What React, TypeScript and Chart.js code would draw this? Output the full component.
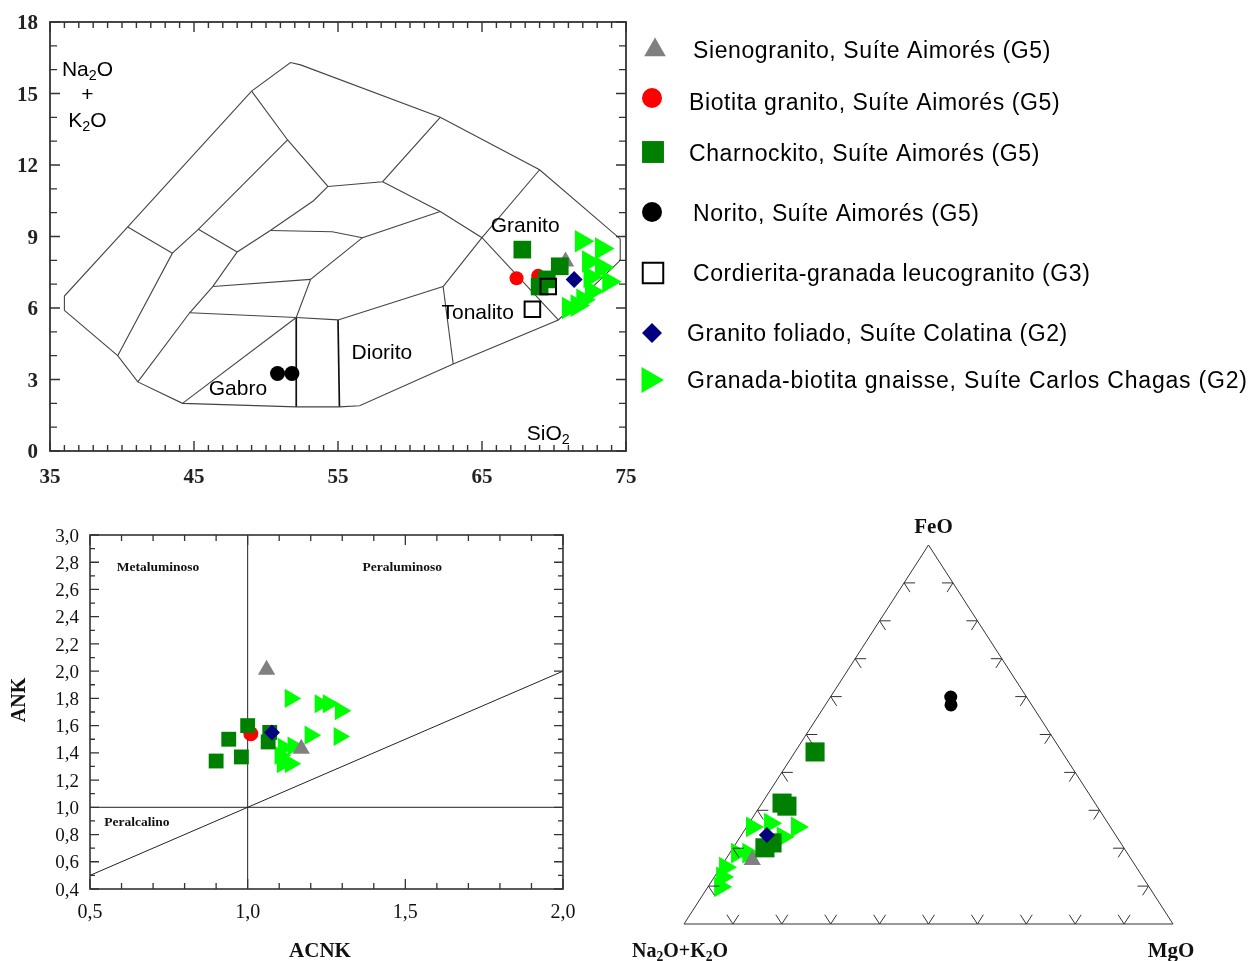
import React, { useEffect, useRef } from 'react';
import { Chart, registerables } from 'chart.js';
import { drawPoint } from 'chart.js/helpers';

Chart.register(...registerables);

type XY = [number, number];
type AFM = [number, number, number]; // [Na2O+K2O, FeO, MgO]

// ---------- series ----------
const seriesNames = [
  'Sienogranito, Suíte Aimorés (G5)',
  'Biotita granito, Suíte Aimorés (G5)',
  'Charnockito, Suíte Aimorés (G5)',
  'Norito, Suíte Aimorés (G5)',
  'Cordierita-granada leucogranito (G3)',
  'Granito foliado, Suíte Colatina (G2)',
  'Granada-biotita gnaisse, Suíte Carlos Chagas (G2)',
];

// ---------- TAS: SiO2 vs Na2O + K2O ----------
const tasXTicks = [35, 45, 55, 65, 75];
const tasYTicks = [0, 3, 6, 9, 12, 15, 18];

const tasSienogranito: XY[] = [[70.8, 7.95]];
const tasBiotitaGranito: XY[] = [[67.4, 7.25], [68.9, 7.35]];
const tasCharnockito: XY[] = [[67.8, 8.45], [70.4, 7.75], [69.5, 7.2], [69.0, 6.9]];
const tasNorito: XY[] = [[50.8, 3.25], [51.8, 3.25]];
const tasCordierita: XY[] = [[69.6, 6.9], [68.5, 5.95]];
const tasGranitoFoliado: XY[] = [[71.4, 7.2]];
const tasGnaisse: XY[] = [
  [71.9, 8.8], [73.3, 8.5], [72.4, 7.95], [73.3, 7.7], [72.5, 7.3],
  [73.8, 7.1], [72.6, 6.7], [72.0, 6.35], [71.0, 6.0], [71.6, 6.1],
];

// field boundaries of the plutonic TAS diagram
const tasOutline: XY[] = [
  [36, 5.9], [36, 6.5], [40.4, 9.4], [49, 15.1], [51.7, 16.3], [52.4, 16.2], [62.1, 14],
  [69, 11.8], [74.6, 8.9], [74.6, 8], [70.3, 5.5], [63, 3.65], [56.5, 1.9], [55.1, 1.85],
  [52.1, 1.85], [44.2, 2], [41.1, 2.9], [39.7, 4], [36, 5.9],
];
const tasDividers: XY[][] = [
  [[40.4, 9.4], [43.5, 8.3]],
  [[39.7, 4], [43.5, 8.3], [45.3, 9.3], [51.5, 13.05]],
  [[49, 15.1], [51.5, 13.05], [54.3, 11.1], [58.1, 11.3], [62.1, 14]],
  [[41.1, 2.9], [44.7, 5.8], [46.3, 6.9], [48, 8.35], [50.3, 9.25], [53.3, 10.5], [54.3, 11.1]],
  [[45.3, 9.3], [48, 8.35]],
  [[50.3, 9.25], [54.6, 9.2], [56.7, 8.95]],
  [[46.3, 6.9], [53.1, 7.2]],
  [[44.7, 5.8], [52.1, 5.6], [55, 5.5]],
  [[52.1, 5.6], [53.1, 7.2], [56.7, 8.95], [62.1, 10.05]],
  [[58.1, 11.3], [62.1, 10.05], [65, 8.95], [70.3, 5.5]],
  [[69, 11.8], [65, 8.95], [62.3, 6.9]],
  [[55, 5.5], [62.3, 6.9]],
  [[62.3, 6.9], [63, 3.65]],
  [[44.2, 2], [52.1, 5.6]],
];
const tasHeavyDividers: XY[][] = [
  [[52.1, 5.6], [52.1, 1.85]],
  [[55, 5.5], [55.1, 1.85]],
];
const tasFieldNames = ['Granito', 'Tonalito', 'Diorito', 'Gabro', 'SiO_2'];
const tasFieldAnchors: XY[] = [[68.0, 9.5], [64.7, 5.85], [58.05, 4.15], [48.05, 2.65], [69.6, 0.76]];

// ---------- Shand: A/CNK vs A/NK ----------
const shandXTickValues = [0.5, 1.0, 1.5, 2.0];
const shandXTickLabels = ['0,5', '1,0', '1,5', '2,0'];
const shandYTickValues = [0.4, 0.6, 0.8, 1.0, 1.2, 1.4, 1.6, 1.8, 2.0, 2.2, 2.4, 2.6, 2.8, 3.0];
const shandYTickLabels = ['0,4', '0,6', '0,8', '1,0', '1,2', '1,4', '1,6', '1,8', '2,0', '2,2', '2,4', '2,6', '2,8', '3,0'];

const shandSienogranito: XY[] = [[1.06, 2.01], [1.17, 1.43]];
const shandBiotitaGranito: XY[] = [[1.01, 1.54]];
const shandCharnockito: XY[] = [[0.9, 1.34], [0.94, 1.5], [0.98, 1.37], [1.0, 1.6], [1.07, 1.55], [1.065, 1.48]];
const shandGranitoFoliado: XY[] = [[1.077, 1.55]];
const shandGnaisse: XY[] = [
  [1.135, 1.8], [1.23, 1.76], [1.256, 1.76], [1.294, 1.71], [1.198, 1.53],
  [1.29, 1.52], [1.144, 1.45], [1.113, 1.44], [1.103, 1.38], [1.11, 1.32], [1.135, 1.32],
];
const shandBoundaries: XY[][] = [
  [[1.0, 0.4], [1.0, 3.0]],
  [[0.5, 1.0], [2.0, 1.0]],
  [[0.5, 0.5], [2.0, 2.0]],
];
const shandFieldNames = ['Metaluminoso', 'Peraluminoso', 'Peralcalino'];
const shandFieldAnchors: XY[] = [[0.716, 2.77], [1.49, 2.77], [0.649, 0.9]];

// ---------- AFM ternary: [Na2O+K2O, FeO, MgO] ----------
const afmSienogranito: AFM[] = [[77.6, 16.9, 5.5]];
const afmBiotitaGranito: AFM[] = [[65.0, 31.1, 3.9]];
const afmCharnockito: AFM[] = [[50.5, 45.4, 4.1], [64.0, 31.9, 4.1], [63.4, 31.1, 5.5], [73.4, 20.1, 6.5], [71.3, 21.4, 7.3]];
const afmNorito: AFM[] = [[15.5, 59.9, 24.6], [16.5, 57.8, 25.7]];
const afmGranitoFoliado: AFM[] = [[71.3, 23.5, 5.2]];
const afmGnaisse: AFM[] = [
  [73.3, 25.6, 1.1], [69.1, 26.6, 4.3], [64.1, 25.6, 10.3], [79.8, 18.7, 1.5], [77.5, 18.7, 3.8],
  [84.1, 15.0, 0.9], [86.0, 12.4, 1.6], [87.7, 9.8, 2.5], [68.3, 23.0, 8.7],
];
const afmVertices: AFM[] = [[100, 0, 0], [0, 0, 100], [0, 100, 0], [100, 0, 0]];
const afmVertexNames = ['Na_2O+K_2O', 'MgO', 'FeO'];

// ---------- styling ----------
const SERIF = "'Liberation Serif', 'Times New Roman', serif";
const SANS = "'Liberation Sans', Arial, sans-serif";

const markerStyles = [
  { color: '#808080', pointStyle: 'triangle', rotation: 0, open: false },
  { color: '#ff0000', pointStyle: 'circle', rotation: 0, open: false },
  { color: '#008000', pointStyle: 'rect', rotation: 0, open: false },
  { color: '#000000', pointStyle: 'circle', rotation: 0, open: false },
  { color: '#000000', pointStyle: 'rect', rotation: 0, open: true },
  { color: '#000080', pointStyle: 'rectRot', rotation: 0, open: false },
  { color: '#00ff00', pointStyle: 'triangle', rotation: 90, open: false },
];
// lower value is painted on top
const stackOrder = [4, 6, 3, 2, 1, 0, 7];

const toPoints = (pts: XY[]) => pts.map(([x, y]) => ({ x, y }));
const ternaryPoints = (pts: AFM[]) =>
  pts.map(([a, f, m]) => {
    const s = a + f + m;
    return { x: (m + f / 2) / s, y: f / s };
  });

function markerDataset(i: number, data: { x: number; y: number }[], radius: number) {
  const s = markerStyles[i];
  return {
    label: seriesNames[i],
    data,
    showLine: false,
    pointStyle: s.pointStyle,
    pointRotation: s.rotation,
    pointRadius: radius,
    pointHoverRadius: radius,
    pointBackgroundColor: s.open ? 'rgba(0,0,0,0)' : s.color,
    pointBorderColor: s.color,
    pointBorderWidth: s.open ? 2 : 0,
    order: stackOrder[i],
    clip: false,
  };
}

function lineDataset(data: { x: number; y: number }[], color: string, width: number) {
  return {
    label: '',
    data,
    showLine: true,
    borderColor: color,
    borderWidth: width,
    pointRadius: 0,
    pointHoverRadius: 0,
    tension: 0,
    fill: false,
    order: 20,
    clip: false,
  };
}

type Run = { t: string; sub: boolean };
function rich(s: string): Run[] {
  const runs: Run[] = [];
  let buf = '';
  for (let i = 0; i < s.length; i++) {
    if (s[i] === '_' && i + 1 < s.length) {
      if (buf) runs.push({ t: buf, sub: false });
      buf = '';
      runs.push({ t: s[i + 1], sub: true });
      i++;
    } else buf += s[i];
  }
  if (buf) runs.push({ t: buf, sub: false });
  return runs;
}

function drawText(
  ctx: CanvasRenderingContext2D,
  text: string,
  x: number,
  cy: number,
  size: number,
  weight: string,
  family: string,
  align: 'left' | 'center' | 'right',
) {
  const runs = rich(text);
  const subSize = size * 0.68;
  const fontOf = (s: number) => `${weight} ${s}px ${family}`;
  let total = 0;
  const widths = runs.map((r) => {
    ctx.font = fontOf(r.sub ? subSize : size);
    const w = ctx.measureText(r.t).width;
    total += w;
    return w;
  });
  let cx = align === 'center' ? x - total / 2 : align === 'right' ? x - total : x;
  const base = cy + size * 0.35;
  ctx.textAlign = 'left';
  ctx.textBaseline = 'alphabetic';
  runs.forEach((r, i) => {
    ctx.font = fontOf(r.sub ? subSize : size);
    ctx.fillText(r.t, cx, r.sub ? base + size * 0.2 : base);
    cx += widths[i];
  });
}

const baseOptions = (padding: any, xr: [number, number], yr: [number, number]) => ({
  animation: false as const,
  responsive: false,
  events: [] as any[],
  layout: { padding },
  plugins: { legend: { display: false }, tooltip: { enabled: false } },
  scales: {
    x: { type: 'linear' as const, min: xr[0], max: xr[1], display: false },
    y: { type: 'linear' as const, min: yr[0], max: yr[1], display: false },
  },
});

// ---------- TAS chart ----------
const legendMarkers = [
  { x: 655, y: 50, r: 12.5 },
  { x: 652, y: 98, r: 10 },
  { x: 653, y: 152, r: 15.5 },
  { x: 652, y: 212, r: 10 },
  { x: 653, y: 273, r: 14.5 },
  { x: 652, y: 333, r: 10 },
  { x: 649, y: 380, r: 15 },
];
const legendText = [
  { x: 693, y: 50 },
  { x: 689, y: 102 },
  { x: 689, y: 153 },
  { x: 693, y: 213 },
  { x: 693, y: 273 },
  { x: 687, y: 333 },
  { x: 687, y: 380 },
];

const tasDecor = {
  id: 'tasDecor',
  afterDraw(chart: any) {
    const { ctx, chartArea: a } = chart;
    const xs = chart.scales.x;
    const ys = chart.scales.y;
    ctx.save();
    ctx.strokeStyle = '#333';
    ctx.lineWidth = 1.8;
    ctx.strokeRect(a.left, a.top, a.right - a.left, a.bottom - a.top);
    ctx.lineWidth = 1.4;
    ctx.beginPath();
    for (let v = tasXTicks[0]; v <= tasXTicks[tasXTicks.length - 1]; v++) {
      const p = xs.getPixelForValue(v);
      const len = tasXTicks.includes(v) ? 10 : 6;
      ctx.moveTo(p, a.bottom);
      ctx.lineTo(p, a.bottom - len);
      ctx.moveTo(p, a.top);
      ctx.lineTo(p, a.top + len);
    }
    for (let v = tasYTicks[0]; v <= tasYTicks[tasYTicks.length - 1]; v++) {
      const p = ys.getPixelForValue(v);
      const len = tasYTicks.includes(v) ? 10 : 7;
      ctx.moveTo(a.left, p);
      ctx.lineTo(a.left + len, p);
      ctx.moveTo(a.right, p);
      ctx.lineTo(a.right - len, p);
    }
    ctx.stroke();

    ctx.fillStyle = '#222';
    tasYTicks.forEach((v) => drawText(ctx, String(v), a.left - 12, ys.getPixelForValue(v), 21, 'bold', SERIF, 'right'));
    tasXTicks.forEach((v) => drawText(ctx, String(v), xs.getPixelForValue(v), a.bottom + 25, 21, 'bold', SERIF, 'center'));

    ctx.fillStyle = '#000';
    drawText(ctx, 'Na_2O', xs.getPixelForValue(37.6), ys.getPixelForValue(16.05), 21, 'normal', SANS, 'center');
    drawText(ctx, '+', xs.getPixelForValue(37.6), ys.getPixelForValue(15.0), 21, 'normal', SANS, 'center');
    drawText(ctx, 'K_2O', xs.getPixelForValue(37.6), ys.getPixelForValue(13.9), 21, 'normal', SANS, 'center');
    tasFieldNames.forEach((name, i) => {
      const [x, y] = tasFieldAnchors[i];
      drawText(ctx, name, xs.getPixelForValue(x), ys.getPixelForValue(y), 21, 'normal', SANS, 'center');
    });

    // legend, painted with the same marker styles as the datasets
    seriesNames.forEach((name, i) => {
      const s = markerStyles[i];
      const m = legendMarkers[i];
      ctx.fillStyle = s.open ? 'rgba(0,0,0,0)' : s.color;
      ctx.strokeStyle = s.color;
      ctx.lineWidth = 2;
      drawPoint(ctx, { pointStyle: s.pointStyle as any, rotation: s.rotation, radius: m.r, borderWidth: s.open ? 2 : 0 } as any, m.x, m.y);
      ctx.fillStyle = '#000';
      (ctx as any).letterSpacing = i === 6 ? '0.8px' : '0.6px';
      drawText(ctx, name, legendText[i].x, legendText[i].y, 23, 'normal', SANS, 'left');
      (ctx as any).letterSpacing = '0px';
    });
    ctx.restore();
  },
};

// ---------- Shand chart ----------
const shandDecor = {
  id: 'shandDecor',
  afterDraw(chart: any) {
    const { ctx, chartArea: a } = chart;
    const xs = chart.scales.x;
    const ys = chart.scales.y;
    ctx.save();
    ctx.strokeStyle = '#333';
    ctx.lineWidth = 1.6;
    ctx.strokeRect(a.left, a.top, a.right - a.left, a.bottom - a.top);
    ctx.lineWidth = 1.3;
    ctx.beginPath();
    for (let k = 5; k <= 20; k++) {
      const p = xs.getPixelForValue(k / 10);
      const len = k % 5 === 0 ? 10 : 6;
      ctx.moveTo(p, a.bottom);
      ctx.lineTo(p, a.bottom - len);
      ctx.moveTo(p, a.top);
      ctx.lineTo(p, a.top + len);
    }
    for (let k = 4; k <= 30; k++) {
      const p = ys.getPixelForValue(k / 10);
      const len = k % 2 === 0 ? 9 : 5;
      ctx.moveTo(a.left, p);
      ctx.lineTo(a.left + len, p);
      ctx.moveTo(a.right, p);
      ctx.lineTo(a.right - len, p);
    }
    ctx.stroke();

    ctx.fillStyle = '#111';
    shandYTickValues.forEach((v, i) => drawText(ctx, shandYTickLabels[i], a.left - 11, ys.getPixelForValue(v), 19, 'normal', SERIF, 'right'));
    shandXTickValues.forEach((v, i) => drawText(ctx, shandXTickLabels[i], xs.getPixelForValue(v), a.bottom + 22, 20, 'normal', SERIF, 'center'));

    shandFieldNames.forEach((name, i) => {
      const [x, y] = shandFieldAnchors[i];
      drawText(ctx, name, xs.getPixelForValue(x), ys.getPixelForValue(y), 13.5, 'bold', SERIF, 'center');
    });

    drawText(ctx, 'ACNK', 320, 450, 21, 'bold', SERIF, 'center');
    ctx.save();
    ctx.translate(18, 200);
    ctx.rotate(-Math.PI / 2);
    drawText(ctx, 'ANK', 0, 0, 20, 'bold', SERIF, 'center');
    ctx.restore();
    ctx.restore();
  },
};

// ---------- AFM chart ----------
const afmDecor = {
  id: 'afmDecor',
  afterDraw(chart: any) {
    const { ctx } = chart;
    const xs = chart.scales.x;
    const ys = chart.scales.y;
    const pix = (p: { x: number; y: number }) => ({ x: xs.getPixelForValue(p.x), y: ys.getPixelForValue(p.y) });
    const [A, M, F] = ternaryPoints(afmVertices).map(pix);
    const unit = (p: any, q: any) => {
      const dx = q.x - p.x;
      const dy = q.y - p.y;
      const l = Math.hypot(dx, dy);
      return { x: dx / l, y: dy / l };
    };
    const lerp = (p: any, q: any, t: number) => ({ x: p.x + (q.x - p.x) * t, y: p.y + (q.y - p.y) * t });
    const sides = [
      { from: A, to: M, d1: unit(A, F), d2: unit(M, F) },
      { from: A, to: F, d1: unit(A, M), d2: unit(F, M) },
      { from: M, to: F, d1: unit(M, A), d2: unit(F, A) },
    ];
    const L = 11;
    ctx.save();
    ctx.strokeStyle = '#333';
    ctx.lineWidth = 1;
    ctx.beginPath();
    sides.forEach((s) => {
      for (let k = 1; k <= 9; k++) {
        const p = lerp(s.from, s.to, k / 10);
        ctx.moveTo(p.x, p.y);
        ctx.lineTo(p.x + s.d1.x * L, p.y + s.d1.y * L);
        ctx.moveTo(p.x, p.y);
        ctx.lineTo(p.x + s.d2.x * L, p.y + s.d2.y * L);
      }
    });
    ctx.stroke();

    ctx.fillStyle = '#111';
    drawText(ctx, afmVertexNames[0], A.x - 4, A.y + 26, 20, 'bold', SERIF, 'center');
    drawText(ctx, afmVertexNames[1], M.x - 2, M.y + 26, 21, 'bold', SERIF, 'center');
    drawText(ctx, afmVertexNames[2], F.x + 5, F.y - 19, 21, 'bold', SERIF, 'center');
    ctx.restore();
  },
};

export default function App() {
  const tasRef = useRef<HTMLCanvasElement>(null);
  const shandRef = useRef<HTMLCanvasElement>(null);
  const afmRef = useRef<HTMLCanvasElement>(null);

  useEffect(() => {
    const charts: Chart[] = [];

    charts.push(
      new Chart(tasRef.current!, {
        type: 'scatter',
        data: {
          datasets: [
            lineDataset(toPoints(tasOutline), '#444', 1.1),
            ...tasDividers.map((l) => lineDataset(toPoints(l), '#444', 1.1)),
            ...tasHeavyDividers.map((l) => lineDataset(toPoints(l), '#111', 1.7)),
            markerDataset(0, toPoints(tasSienogranito), 10),
            markerDataset(1, toPoints(tasBiotitaGranito), 7),
            markerDataset(2, toPoints(tasCharnockito), 12.5),
            markerDataset(3, toPoints(tasNorito), 7.5),
            markerDataset(4, toPoints(tasCordierita), 11),
            markerDataset(5, toPoints(tasGranitoFoliado), 8.5),
            markerDataset(6, toPoints(tasGnaisse), 13),
          ] as any,
        },
        options: baseOptions({ left: 50, top: 22, right: 624, bottom: 39 }, [35, 75], [0, 18]) as any,
        plugins: [tasDecor],
      }),
    );

    charts.push(
      new Chart(shandRef.current!, {
        type: 'scatter',
        data: {
          datasets: [
            ...shandBoundaries.map((l) => lineDataset(toPoints(l), '#222', 1)),
            markerDataset(0, toPoints(shandSienogranito), 10),
            markerDataset(1, toPoints(shandBiotitaGranito), 7.5),
            markerDataset(2, toPoints(shandCharnockito), 10.5),
            markerDataset(5, toPoints(shandGranitoFoliado), 8),
            markerDataset(6, toPoints(shandGnaisse), 11),
          ] as any,
        },
        options: baseOptions({ left: 90, top: 35, right: 57, bottom: 72 }, [0.5, 2.0], [0.4, 3.0]) as any,
        plugins: [shandDecor],
      }),
    );

    charts.push(
      new Chart(afmRef.current!, {
        type: 'scatter',
        data: {
          datasets: [
            lineDataset(ternaryPoints(afmVertices), '#333', 1),
            markerDataset(0, ternaryPoints(afmSienogranito), 10),
            markerDataset(1, ternaryPoints(afmBiotitaGranito), 3),
            markerDataset(2, ternaryPoints(afmCharnockito), 13.5),
            markerDataset(3, ternaryPoints(afmNorito), 6.5),
            markerDataset(5, ternaryPoints(afmGranitoFoliado), 8),
            markerDataset(6, ternaryPoints(afmGnaisse), 12),
          ] as any,
        },
        options: baseOptions({ left: 64, top: 45, right: 77, bottom: 37 }, [0, 1], [0, 1]) as any,
        plugins: [afmDecor],
      }),
    );

    return () => charts.forEach((c) => c.destroy());
  }, []);

  return (
    <div style={{ position: 'absolute', left: 0, top: 0, width: 1250, height: 961, background: '#fff', overflow: 'hidden' }}>
      <canvas ref={tasRef} width={1250} height={490} style={{ position: 'absolute', left: 0, top: 0, width: 1250, height: 490 }} />
      <canvas ref={shandRef} width={620} height={461} style={{ position: 'absolute', left: 0, top: 500, width: 620, height: 461 }} />
      <canvas ref={afmRef} width={630} height={461} style={{ position: 'absolute', left: 620, top: 500, width: 630, height: 461 }} />
    </div>
  );
}
